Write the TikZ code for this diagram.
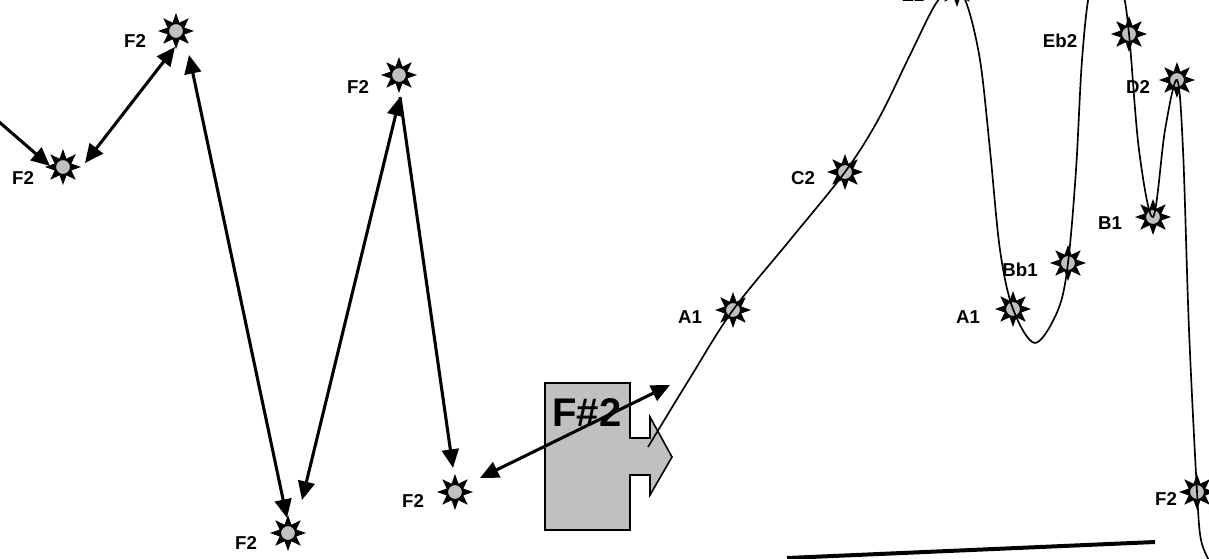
\documentclass[tikz,border=0pt]{standalone}
\usepackage{fontspec}
\setmainfont{Liberation Sans}
\usetikzlibrary{shapes.geometric,arrows.meta,calc}
\definecolor{silv}{HTML}{C0C0C0}
\begin{document}
\begin{tikzpicture}[x=0.75pt,y=-0.75pt,
  starnode/.style={star, star points=8, star point ratio=2.0, minimum size=27pt,
    inner sep=0pt, outer sep=0pt, fill=black,
    path picture={\filldraw[fill=silv,draw=black,line width=0.8pt]
      (path picture bounding box.center) circle (5.6pt);}},
  lbl/.style={font=\bfseries\fontsize{14}{15}\selectfont, inner sep=0pt},
  big/.style={font=\bfseries\fontsize{30}{32}\selectfont, inner sep=0pt},
  arr/.style={line width=2.3pt, -{Triangle[length=14pt,width=12.5pt]}},
  darr/.style={line width=2.3pt, {Triangle[length=14pt,width=12.5pt]}-{Triangle[length=14pt,width=12.5pt]}},
  thin/.style={line width=1.25pt},
  shapebox/.style={fill=silv, draw=black, line width=1.2pt},
]
\useasboundingbox (0,0) rectangle (1209,559);

% F#2 block arrow
\draw[shapebox] (545,383) -- (630,383) -- (630,438) -- (650,438) -- (650,417)
  -- (672,457) -- (650,495) -- (650,475) -- (630,475) -- (630,530) -- (545,530) -- cycle;
\node[big] (fsharp) at (587,413) {F\#2};

% stars
\node[starnode] (f2a) at (63,167) {};
\node[starnode] (f2b) at (176,31) {};
\node[starnode] (f2c) at (399,75) {};
\node[starnode] (f2d) at (288,533) {};
\node[starnode] (f2e) at (455,492) {};
\node[starnode] (a1a) at (733,310) {};
\node[starnode] (c2) at (845,172) {};
\node[starnode] (e2) at (957,-11) {};
\node[starnode] (eb2) at (1129,34) {};
\node[starnode] (d2) at (1177,80) {};
\node[starnode] (b1) at (1153,217) {};
\node[starnode] (bb1) at (1068,263) {};
\node[starnode] (a1b) at (1013,309) {};
\node[starnode] (f2f) at (1197,492) {};

% labels
\node[lbl] (lf2a) at (23,178) {F2};
\node[lbl] (lf2b) at (135,41) {F2};
\node[lbl] (lf2c) at (358,87) {F2};
\node[lbl] (lf2d) at (246,543) {F2};
\node[lbl] (lf2e) at (413,501) {F2};
\node[lbl] (la1a) at (690,317) {A1};
\node[lbl] (lc2) at (803,178) {C2};
\node[lbl] (le2) at (913,-5) {E2};
\node[lbl] (leb2) at (1060,41) {Eb2};
\node[lbl] (ld2) at (1138,87) {D2};
\node[lbl] (lb1) at (1110,223) {B1};
\node[lbl] (lbb1) at (1020,270) {Bb1};
\node[lbl] (la1b) at (968,317) {A1};
\node[lbl] (lf2f) at (1166,499) {F2};

% thin melodic curve
\draw[thin] plot[smooth, tension=0.55] coordinates {
  (648,447) (690,378) (a1a.center) (790,240) (c2.center) (878,120) (910,55)
  (935,5) (952,-12) (966,2) (980,60) (990,150) (1000,250) (a1b.center)
  (1035,343) (1058,310) (bb1.center) (1076,170) (1082,60) (1090,-10)
  (1105,-40) (1122,-10) (eb2.center) (1139,150) (b1.center) (1165,130)
  (d2.center) (1183,150) (1189,330) (f2f.center) (1201,540) (1210,562)};

% thick arrows
\coordinate (lstart) at (-2,121);
\coordinate (fend) at (670,385);
\draw[arr] (lstart) -- ($(f2a.center)+(-13,-1)$);
\draw[darr] ($(f2a.center)+(22,-4)$) -- ($(f2b.center)+(-1,16)$);
\draw[darr] ($(f2b.center)+(13,24)$) -- ($(f2d.center)+(-1,-15)$);
\draw[darr] ($(f2d.center)+(14,-33)$) -- ($(f2c.center)+(1,22)$);
\draw[arr] ($(f2c.center)+(1,22)$) -- ($(f2e.center)+(-2,-24)$);
\draw[darr] ($(f2e.center)+(25,-14)$) -- (fend);

% bottom thick line
\coordinate (bl) at (787,558);
\coordinate (br) at (1155,542);
\draw[line width=3pt] (bl) -- (br);
\end{tikzpicture}
\end{document}
